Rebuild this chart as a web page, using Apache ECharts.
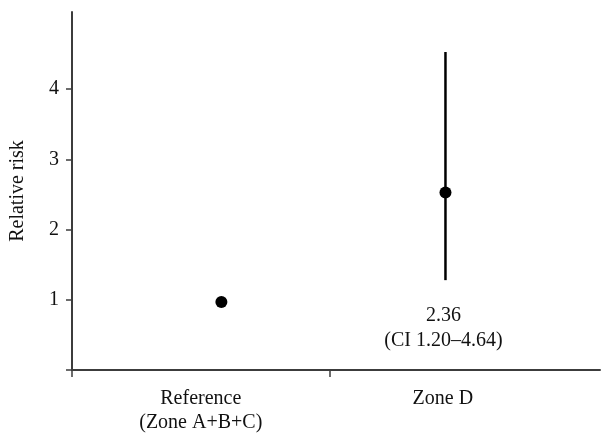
<!DOCTYPE html>
<html>
<head>
<meta charset="utf-8">
<script src="https://cdn.jsdelivr.net/npm/echarts@6/dist/echarts.min.js"></script>
<style>
  html, body { margin: 0; padding: 0; background: #fff; }
  #chart { width: 601px; height: 435px; }
</style>
</head>
<body>
<div id="chart"></div>
<script>
// groups on the x axis and where they sit
var categories = ['Reference\n(Zone A+B+C)', 'Zone D']
var labelPos = [1.0, 2.88]
var pointPos = [1.16, 2.9]
// relative risk point estimates and CI ends as drawn
var estimates = [0.97, 2.53]
var ciLow = [null, 1.28]
var ciHigh = [null, 4.53]
var ciText = [null, '2.36\n(CI 1.20–4.64)']
var yTicks = [0, 1, 2, 3, 4]
var xTicks = [0, 2]

var font = "'Liberation Serif', 'Times New Roman', serif"
var axisColor = '#3c3c3c'
var textColor = '#111'

var pointData = pointPos.map(function (x, i) { return [x, estimates[i]] })
var barData = []
pointPos.forEach(function (x, i) {
  if (ciLow[i] != null) barData.push([x, ciLow[i], ciHigh[i], ciText[i]])
})

var chart = echarts.init(document.getElementById('chart'))
chart.setOption({
  animation: false,
  grid: { left: 69, right: 1, top: 12, bottom: 63 },
  xAxis: {
    type: 'value',
    min: 0,
    max: 4.1,
    splitLine: { show: false },
    axisLine: { lineStyle: { color: axisColor, width: 2 } },
    axisTick: {
      customValues: xTicks,
      length: 7,
      lineStyle: { color: axisColor, width: 1.5 }
    },
    axisLabel: {
      customValues: labelPos,
      formatter: function (v) {
        var i = labelPos.indexOf(v)
        return i >= 0 ? categories[i] : ''
      },
      margin: 17,
      fontFamily: font,
      fontSize: 20,
      lineHeight: 24,
      color: textColor
    }
  },
  yAxis: {
    type: 'value',
    min: 0,
    max: 5.1,
    name: 'Relative risk',
    nameLocation: 'middle',
    nameGap: 44,
    nameTextStyle: { fontFamily: font, fontSize: 20, color: textColor },
    splitLine: { show: false },
    axisLine: { show: true, lineStyle: { color: axisColor, width: 2 } },
    axisTick: {
      show: true,
      customValues: yTicks,
      length: 6,
      lineStyle: { color: axisColor, width: 1.5 }
    },
    axisLabel: {
      customValues: [1, 2, 3, 4],
      margin: 13,
      fontFamily: font,
      fontSize: 20,
      color: textColor
    }
  },
  series: [
    {
      type: 'custom',
      data: barData,
      renderItem: function (params, api) {
        var lo = api.coord([api.value(0), api.value(1)])
        var hi = api.coord([api.value(0), api.value(2)])
        var txt = barData[params.dataIndex][3]
        return {
          type: 'group',
          children: [
            {
              type: 'line',
              shape: { x1: lo[0], y1: lo[1], x2: hi[0], y2: hi[1] },
              style: { stroke: '#000', lineWidth: 2.5 }
            },
            {
              type: 'text',
              x: lo[0] - 2,
              y: lo[1] + 23,
              style: {
                text: txt,
                fontFamily: font,
                fontSize: 20,
                lineHeight: 25,
                fill: textColor,
                align: 'center',
                verticalAlign: 'top'
              }
            }
          ]
        }
      },
      z: 2
    },
    {
      type: 'scatter',
      data: pointData,
      symbol: 'circle',
      symbolSize: 12,
      itemStyle: { color: '#000', opacity: 1 },
      emphasis: { disabled: true },
      z: 3
    }
  ]
})
</script>
</body>
</html>
